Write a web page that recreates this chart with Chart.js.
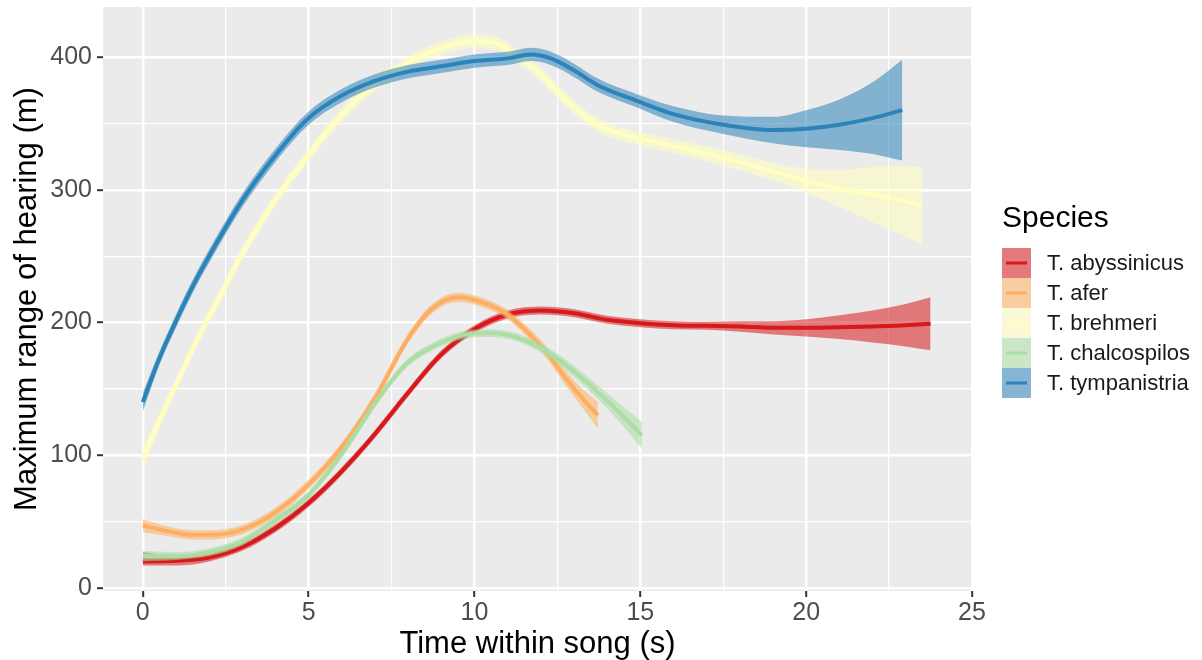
<!DOCTYPE html>
<html>
<head>
<meta charset="utf-8">
<script src="https://cdn.jsdelivr.net/npm/chart.js@4.4.1/dist/chart.umd.min.js"></script>
<style>
  body { margin: 0; background: #fff; }
  canvas { display: block; }
</style>
</head>
<body>
<canvas id="rangeChart" width="1202" height="660"></canvas>
<script>
// loess fits of hearing range over song time, one per species (fit + 95% band)
const species = ['T. abyssinicus', 'T. afer', 'T. brehmeri', 'T. chalcospilos', 'T. tympanistria'];

const timeBreaks = [0, 5, 10, 15, 20, 25];
const rangeBreaks = [0, 100, 200, 300, 400];

const abyT   = [0, 1, 2, 3, 4, 5, 6, 7, 8, 9, 10, 11, 12, 13, 14, 15, 16, 17, 18, 19, 20, 21, 22, 23, 23.75];
const abyFit = [20, 20.5, 23, 31, 45, 64, 88, 116, 147, 176, 195, 206, 209, 207, 202, 199.5, 198, 197.5, 197, 196, 196, 196.5, 197, 198, 199];
const abyLo  = [17, 17, 20, 28, 42, 61, 85, 113, 144, 173, 192, 203, 206, 204, 199, 196.5, 195, 194.5, 193, 191, 189.5, 187.5, 185, 182, 179];
const abyHi  = [27, 24, 26, 34, 48, 67, 91, 119, 150, 179, 198, 209, 212, 210, 205, 202.5, 201, 200.5, 201, 201, 202.5, 205.5, 209, 214, 219];

const aferT   = [0, 0.5, 1, 1.5, 2, 3, 4, 5, 6, 7, 8, 8.75, 9.5, 10.25, 11, 11.75, 12.25, 12.75, 13.25, 13.72];
const aferFit = [47, 44, 41.5, 40, 40, 44, 57, 78, 106, 143, 188, 211, 219, 215, 206, 189, 175, 158, 143, 130];
const aferLo  = [42, 40, 38, 36.5, 36.5, 40.5, 53.5, 74.5, 102.5, 139.5, 184.5, 207.5, 215.5, 211.5, 202.5, 185, 170.5, 152.5, 136, 120];
const aferHi  = [52, 48, 45, 43.5, 43.5, 47.5, 60.5, 81.5, 109.5, 146.5, 191.5, 214.5, 222.5, 218.5, 209.5, 193, 179.5, 163.5, 150, 140];

const brehT   = [0, 0.5, 1, 1.7, 2.5, 3, 4.2, 5, 5.7, 6.5, 7.7, 8.5, 9.3, 10, 10.7, 11.3, 12, 12.7, 13.7, 14.9, 16, 17.5, 19.7, 21, 22.5, 23.5];
const brehFit = [97, 126, 153, 190, 228, 252, 300, 326, 348, 369, 391, 402, 409, 412, 410, 400, 387, 369, 349, 339, 333, 324, 309, 301, 294, 288];
const brehLo  = [88, 120, 148, 185, 223, 247, 295, 321, 343, 364, 386, 397, 404, 407, 405, 395, 382, 364, 344, 334, 328, 318, 301, 287, 270, 259];
const brehHi  = [106, 132, 158, 195, 233, 257, 305, 331, 353, 374, 396, 407, 414, 417, 415, 405, 392, 374, 354, 344, 338, 330, 317, 315, 318, 317];

const chalT   = [0, 1, 2, 3, 4, 5, 6, 7, 7.5, 8, 8.75, 9.75, 10.5, 11.25, 12.25, 13.25, 14.25, 15.05];
const chalFit = [24, 24, 27, 35, 51, 70, 101, 139, 156, 170, 182, 191, 192, 189, 177, 158, 135, 115];
const chalLo  = [20, 21, 24, 32, 48, 67, 98, 136, 153, 167, 179, 188, 189, 186, 173.5, 153.5, 128.5, 105];
const chalHi  = [28, 27, 30, 38, 54, 73, 104, 142, 159, 173, 185, 194, 195, 192, 180.5, 162.5, 141.5, 125];

const tympT   = [0, 0.5, 1, 1.5, 2, 3, 4, 5, 6, 7, 8, 9, 10, 11, 11.7, 12.3, 13, 13.7, 14.9, 16, 17.5, 19, 20, 21, 22, 22.9];
const tympFit = [140, 173, 201, 227, 250, 292, 326, 354, 371, 382, 389, 393, 397, 399, 402, 399, 390, 379, 367, 357, 349, 345, 346, 349, 354, 360];
const tympLo  = [133, 168, 196, 222, 245, 287, 321, 349, 366, 377, 384, 388, 392, 394, 397, 394, 385, 374, 362, 351, 342, 335, 332, 330, 327, 322];
const tympHi  = [147, 178, 206, 232, 255, 297, 331, 359, 376, 387, 394, 398, 402, 404, 407, 404, 395, 384, 372, 363, 356, 355, 360, 368, 381, 398];

const colours = ['#d7191c', '#fdae61', '#ffffbf', '#abdda4', '#2b83ba'];
const bandAlpha = 0.55;
const FONT = "'Liberation Sans', Arial, Helvetica, sans-serif";

const curves = [
  [abyT, abyFit, abyLo, abyHi],
  [aferT, aferFit, aferLo, aferHi],
  [brehT, brehFit, brehLo, brehHi],
  [chalT, chalFit, chalLo, chalHi],
  [tympT, tympFit, tympLo, tympHi]
];

function rgba(hex, a) {
  const n = parseInt(hex.slice(1), 16);
  return `rgba(${n >> 16}, ${(n >> 8) & 255}, ${n & 255}, ${a})`;
}

const toPoints = (t, v) => t.map((x, i) => ({ x: x, y: v[i] }));

// minor grid sits half way between breaks, like ggplot
function withMinor(breaks) {
  const out = [];
  const step = breaks[1] - breaks[0];
  breaks.forEach(b => { out.push(b); out.push(b + step / 2); });
  out.unshift(breaks[0] - step / 2);
  return out;
}

// later species are drawn on top, so push them first
const datasets = [];
for (let i = species.length - 1; i >= 0; i--) {
  const [t, fit, lo, hi] = curves[i];
  datasets.push({
    label: species[i],
    data: toPoints(t, fit),
    borderColor: colours[i],
    borderWidth: 4,
    fill: false
  });
  datasets.push({
    label: species[i] + ' upper',
    data: toPoints(t, hi),
    borderColor: 'transparent',
    borderWidth: 1,
    backgroundColor: rgba(colours[i], bandAlpha),
    fill: '+1'
  });
  datasets.push({
    label: species[i] + ' lower',
    data: toPoints(t, lo),
    borderColor: 'transparent',
    borderWidth: 1,
    fill: false
  });
}

const panelBackground = {
  id: 'panelBackground',
  beforeDraw(chart) {
    const { ctx, chartArea: a } = chart;
    ctx.save();
    ctx.fillStyle = '#ffffff';
    ctx.fillRect(0, 0, chart.width, chart.height);
    ctx.fillStyle = '#ebebeb';
    ctx.fillRect(a.left, a.top, a.right - a.left, a.bottom - a.top);
    ctx.restore();
  }
};

const speciesKey = {
  id: 'speciesKey',
  afterDraw(chart) {
    const ctx = chart.ctx;
    const keyX = 1002, keyY = 248, keyW = 29, keyH = 30;
    ctx.save();
    ctx.fillStyle = '#000';
    ctx.font = '30px ' + FONT;
    ctx.textBaseline = 'alphabetic';
    ctx.fillText('Species', keyX, 227);
    species.forEach((name, i) => {
      const y = keyY + i * keyH;
      ctx.fillStyle = '#f2f2f2';
      ctx.fillRect(keyX, y, keyW, keyH);
      ctx.fillStyle = rgba(colours[i], bandAlpha);
      ctx.fillRect(keyX, y, keyW, keyH);
      ctx.strokeStyle = colours[i];
      ctx.lineWidth = 3;
      ctx.beginPath();
      ctx.moveTo(keyX + 4, y + keyH / 2);
      ctx.lineTo(keyX + keyW - 4, y + keyH / 2);
      ctx.stroke();
      ctx.fillStyle = '#1a1a1a';
      ctx.font = '22px ' + FONT;
      ctx.textBaseline = 'middle';
      ctx.fillText(name, 1047, y + keyH / 2 + 1);
    });
    ctx.restore();
  }
};

const isMajor = (c, breaks) => c.tick && breaks.includes(c.tick.value);

Chart.defaults.font.family = FONT;

new Chart(document.getElementById('rangeChart'), {
  type: 'line',
  data: { datasets: datasets },
  options: {
    responsive: false,
    animation: false,
    layout: { padding: { left: 0, right: 230, top: 7, bottom: 0 } },
    elements: {
      point: { radius: 0, hoverRadius: 0 },
      line: { cubicInterpolationMode: 'monotone' }
    },
    plugins: {
      legend: { display: false },
      tooltip: { enabled: false }
    },
    scales: {
      x: {
        type: 'linear',
        min: -1.2,
        max: 25,
        afterBuildTicks: s => { s.ticks = withMinor(timeBreaks).map(v => ({ value: v })); },
        afterFit: s => { s.height = 69; s.paddingLeft = 0; s.paddingRight = 0; },
        border: { display: false },
        grid: {
          color: '#ffffff',
          lineWidth: c => isMajor(c, timeBreaks) ? 2.4 : 1.2,
          tickColor: c => isMajor(c, timeBreaks) ? '#333333' : 'rgba(0,0,0,0)',
          tickWidth: 2,
          tickLength: 6
        },
        ticks: {
          autoSkip: false,
          maxRotation: 0,
          padding: 1,
          color: '#4d4d4d',
          font: { size: 25 },
          callback: v => timeBreaks.includes(v) ? String(v) : ''
        },
        title: {
          display: true,
          text: 'Time within song (s)',
          color: '#000',
          font: { size: 31, lineHeight: 1 },
          padding: 0
        }
      },
      y: {
        type: 'linear',
        min: -2.3,
        max: 437.7,
        afterBuildTicks: s => { s.ticks = withMinor(rangeBreaks).filter(v => v >= s.min && v <= s.max).map(v => ({ value: v })); },
        afterFit: s => { s.width = 103; s.paddingTop = 0; s.paddingBottom = 0; },
        border: { display: false },
        grid: {
          color: '#ffffff',
          lineWidth: c => isMajor(c, rangeBreaks) ? 2.4 : 1.2,
          tickColor: c => isMajor(c, rangeBreaks) ? '#333333' : 'rgba(0,0,0,0)',
          tickWidth: 2,
          tickLength: 6
        },
        ticks: {
          autoSkip: false,
          padding: 5,
          color: '#4d4d4d',
          font: { size: 25 },
          callback: v => rangeBreaks.includes(v) ? String(v) : ''
        },
        title: {
          display: true,
          text: 'Maximum range of hearing (m)',
          color: '#000',
          font: { size: 31, lineHeight: 1 },
          padding: { top: 12, bottom: 0 }
        }
      }
    }
  },
  plugins: [panelBackground, speciesKey]
});
</script>
</body>
</html>
